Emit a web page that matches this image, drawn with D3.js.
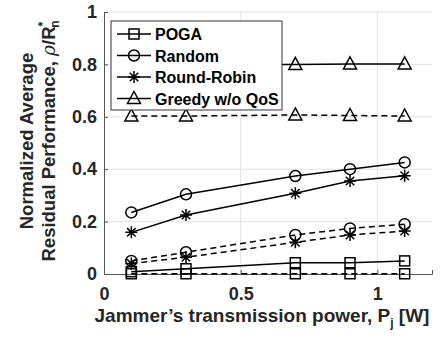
<!DOCTYPE html>
<html>
<head>
<meta charset="utf-8">
<script src="https://cdn.jsdelivr.net/npm/d3@7"></script>
<style>
  body { margin: 0; background: #fff; }
  svg { display: block; font-family: "Liberation Sans", Arial, sans-serif; font-weight: bold; }
</style>
</head>
<body>
<div id="chart"></div>
<script>
// jammer power levels (W)
const powers = [0.1, 0.3, 0.7, 0.9, 1.1];

// solid = with QoS, dashed = second scenario
const pogaSolid    = [0.009, 0.020, 0.043, 0.043, 0.050];
const pogaDashed   = [0.001, 0.001, 0.001, 0.001, 0.001];
const randomSolid  = [0.235, 0.304, 0.374, 0.400, 0.426];
const randomDashed = [0.050, 0.083, 0.149, 0.174, 0.190];
const rrSolid      = [0.159, 0.225, 0.308, 0.355, 0.375];
const rrDashed     = [0.040, 0.064, 0.121, 0.149, 0.164];
const greedySolid  = [0.800, 0.800, 0.800, 0.802, 0.802];
const greedyDashed = [0.603, 0.603, 0.607, 0.605, 0.603];

const xTicks = [0, 0.5, 1];
const yTicks = [0, 0.2, 0.4, 0.6, 0.8, 1];
const legendNames = ['POGA', 'Random', 'Round-Robin', 'Greedy w/o QoS'];

const W = 441, H = 337;
const margin = { top: 12, right: 9, bottom: 63, left: 104 };
const width = W - margin.left - margin.right;
const height = H - margin.top - margin.bottom;

const svg = d3.select('#chart').append('svg')
  .attr('width', W).attr('height', H);
const g = svg.append('g').attr('transform', `translate(${margin.left},${margin.top})`);

const x = d3.scaleLinear().domain([0, 1.2]).range([0, width]);
const y = d3.scaleLinear().domain([0, 1]).range([height, 0]);

/* grid */
g.append('g').selectAll('line').data(xTicks.filter(d => d > 0)).join('line')
  .attr('x1', d => x(d)).attr('x2', d => x(d)).attr('y1', 0).attr('y2', height)
  .attr('stroke', '#e3e3e3').attr('stroke-width', 1);
g.append('g').selectAll('line').data(yTicks.filter(d => d > 0)).join('line')
  .attr('x1', 0).attr('x2', width).attr('y1', d => y(d)).attr('y2', d => y(d))
  .attr('stroke', '#e3e3e3').attr('stroke-width', 1);

/* axes */
const xAxis = g.append('g').attr('transform', `translate(0,${height})`)
  .call(d3.axisBottom(x).tickValues(xTicks).tickSize(-4).tickPadding(13).tickFormat(d3.format('~g')));
const yAxis = g.append('g')
  .call(d3.axisLeft(y).tickValues(yTicks).tickSize(-4).tickPadding(7).tickFormat(d3.format('~g')));
[xAxis, yAxis].forEach(a => {
  a.select('.domain').attr('stroke', '#555').attr('stroke-width', 1);
  a.selectAll('.tick line').attr('stroke', '#555');
  a.selectAll('.tick text').attr('fill', '#262626').style('font-size', '18px')
    .style('font-family', '"Liberation Sans", Arial, sans-serif').style('font-weight', 'bold');
});

/* series */
const series = [
  { vals: greedyDashed, marker: 'tri', dash: true },
  { vals: randomDashed, marker: 'circ', dash: true },
  { vals: rrDashed, marker: 'star', dash: true },
  { vals: pogaDashed, marker: 'sq', dash: true },
  { vals: pogaSolid, marker: 'sq', dash: false },
  { vals: rrSolid, marker: 'star', dash: false },
  { vals: randomSolid, marker: 'circ', dash: false },
  { vals: greedySolid, marker: 'tri', dash: false }
];

function drawMarker(sel, type) {
  sel.attr('fill', 'none').attr('stroke', '#000').attr('stroke-width', 1.5);
  if (type === 'sq') {
    sel.append('rect').attr('x', -5).attr('y', -5).attr('width', 10).attr('height', 10);
  } else if (type === 'circ') {
    sel.append('circle').attr('r', 5.5);
  } else if (type === 'tri') {
    sel.append('path').attr('d', 'M0,-7L6.5,5L-6.5,5Z');
  } else {
    const r = 6;
    const p = [];
    [0, 45, 90, 135].forEach(a => {
      const t = a * Math.PI / 180;
      p.push(`M${-r * Math.cos(t)},${-r * Math.sin(t)}L${r * Math.cos(t)},${r * Math.sin(t)}`);
    });
    sel.append('path').attr('d', p.join(''));
  }
}

const line = d3.line().x((d, i) => x(powers[i])).y(d => y(d));

series.forEach(s => {
  g.append('path').datum(s.vals)
    .attr('fill', 'none').attr('stroke', '#000').attr('stroke-width', 1.5)
    .attr('stroke-dasharray', s.dash ? '6,4' : null)
    .attr('d', line);
  g.append('g').selectAll('g').data(s.vals).join('g')
    .attr('transform', (d, i) => `translate(${x(powers[i])},${y(d)})`)
    .each(function () { drawMarker(d3.select(this), s.marker); });
});

/* legend */
const lg = svg.append('g').attr('transform', 'translate(111,21)');
lg.append('rect').attr('width', 171).attr('height', 89)
  .attr('fill', '#fff').attr('stroke', '#333').attr('stroke-width', 1);
const legMarkers = ['sq', 'circ', 'star', 'tri'];
legendNames.forEach((name, i) => {
  const row = lg.append('g').attr('transform', `translate(0,${13 + i * 21.5})`);
  row.append('line').attr('x1', 6).attr('x2', 40).attr('stroke', '#000').attr('stroke-width', 1.5);
  const m = row.append('g').attr('transform', 'translate(23,0)');
  drawMarker(m, legMarkers[i]);
  row.append('text').attr('x', 44).attr('y', 6).style('font-size', '16px').attr('fill', '#000').text(name);
});

/* axis labels */
svg.append('text')
  .attr('x', 262).attr('y', 322).attr('text-anchor', 'middle')
  .style('font-size', '19px').attr('fill', '#262626')
  .html('Jammer’s transmission power, P<tspan dy="5" font-size="12">j</tspan><tspan dy="-5"> [W]</tspan>');

const yl = svg.append('g').attr('transform', 'translate(0,141) rotate(-90)');
yl.append('text').attr('x', 0).attr('y', 33).attr('text-anchor', 'middle')
  .style('font-size', '18.5px').attr('fill', '#262626').text('Normalized Average');
yl.append('text').attr('x', 0).attr('y', 55).attr('text-anchor', 'middle')
  .style('font-size', '18.5px').attr('fill', '#262626')
  .html('Residual Performance, <tspan font-style="italic" font-weight="normal" font-family="DejaVu Serif">ρ</tspan>/R<tspan dy="-8" font-size="12">*</tspan><tspan dx="-6" dy="12" font-size="12">n</tspan>');
</script>
</body>
</html>
